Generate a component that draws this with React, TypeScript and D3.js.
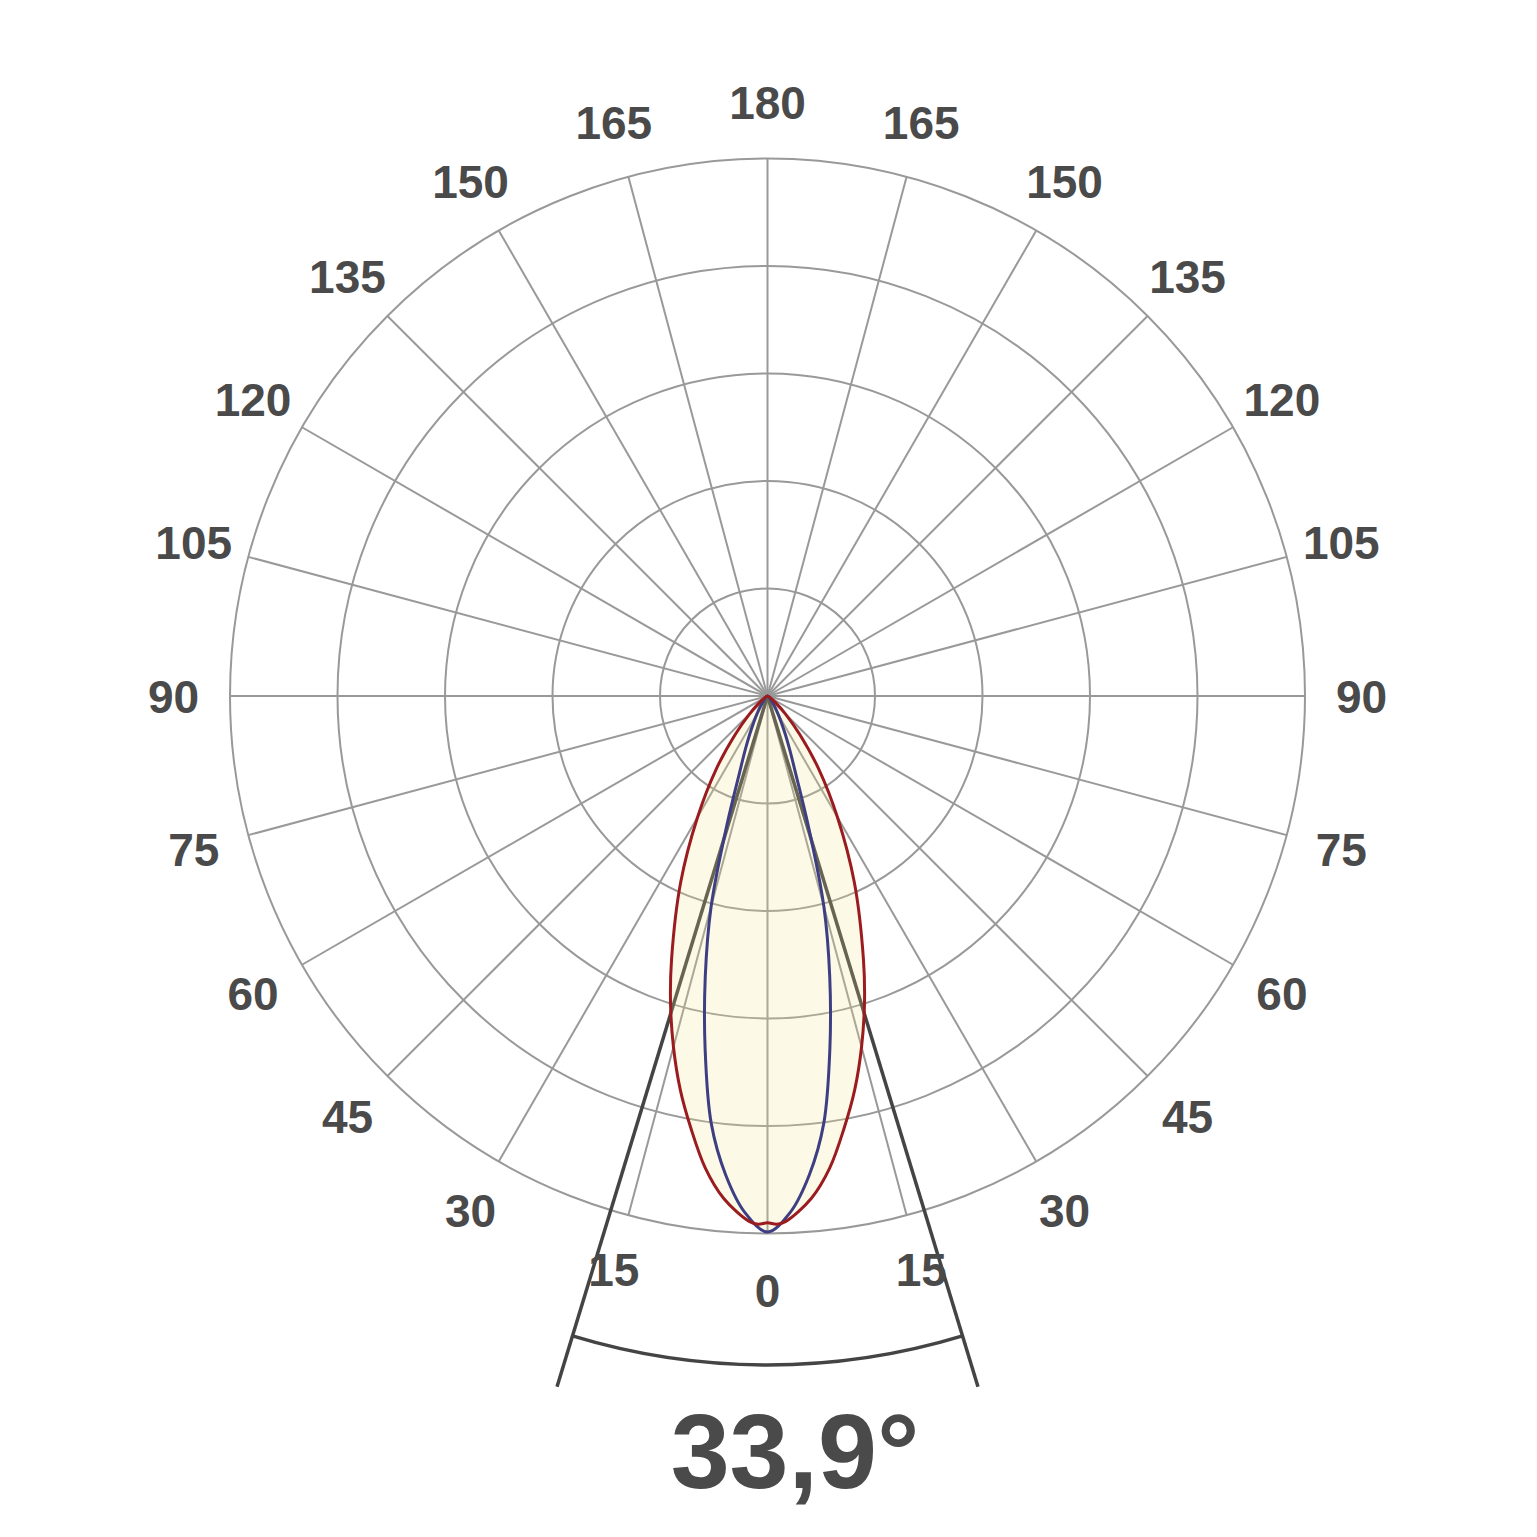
import React from "react";
import * as d3 from "d3";

// Angle labels (degrees from nadir), both sides
const gridAngles = d3.range(0, 360, 15);
const labelAngles = [0, 15, 30, 45, 60, 75, 90, 105, 120, 135, 150, 165, 180];
const ringValues = [20, 40, 60, 80, 100];

// Luminous intensity, % of outer ring — C0/C180 plane (red)
const redAngles = [0, 1, 2, 5, 7.5, 10, 12.5, 15, 17.5, 20, 25, 30, 35, 40, 45, 50, 60, 70, 80, 90];
const redValues = [98.0, 98.3, 97.8, 93.8, 88.6, 81.8, 75, 67.6, 60, 52.2, 38.2, 26, 16.7, 9.3, 4.7, 2.2, 0.6, 0.2, 0.1, 0];

// C90/C270 plane (blue)
const blueAngles = [0, 2.5, 5, 7.5, 10, 12.5, 15, 17.5, 20, 22.5, 25, 27.5, 30, 35, 40, 50, 60, 90];
const blueValues = [99.7, 96.2, 89.4, 80.2, 66.8, 53.5, 40.5, 25, 15.3, 10.8, 7.8, 5.6, 4.1, 2.2, 1.1, 0.4, 0.1, 0];

const beamAngle = 33.9;
const beamLabel = "33,9";

const W = 1537;
const cx = 767.5;
const cy = 696;
const R = 537.5;

const rScale = d3.scaleLinear().domain([0, 100]).range([0, R]);

function pt(angDeg: number, r: number): [number, number] {
  const a = (angDeg * Math.PI) / 180;
  return [cx + r * Math.sin(a), cy + r * Math.cos(a)];
}

function curvePath(angles: number[], values: number[]) {
  const right = angles.map((a, i) => ({ a, v: values[i] }));
  const left = right.slice().reverse().map((d) => ({ a: -d.a, v: d.v }));
  const pts = [...left, ...right.slice(1)];
  const line = d3
    .lineRadial<{ a: number; v: number }>()
    .angle((d) => Math.PI - (d.a * Math.PI) / 180)
    .radius((d) => rScale(d.v))
    .curve(d3.curveCatmullRomClosed.alpha(0.5));
  return line(pts) || "";
}

export default function App() {
  const grid = "#999999";
  const txt = "#4a4a4a";
  const half = beamAngle / 2;
  const beamR = 722;
  const arcR = 669;
  const fs = 46;
  const arc = d3
    .arc()
    .innerRadius(arcR)
    .outerRadius(arcR)
    .startAngle(Math.PI - (half * Math.PI) / 180)
    .endAngle(Math.PI + (half * Math.PI) / 180);
  const redD = curvePath(redAngles, redValues);
  const blueD = curvePath(blueAngles, blueValues);
  return (
    <svg
      width={W}
      height={W}
      style={{ position: "absolute", left: 0, top: 0, background: "#fff" }}
      fontFamily="'Liberation Sans', Arial, Helvetica, sans-serif"
      fontWeight="bold"
    >
      <rect width={W} height={W} fill="#fff" />
      {ringValues.map((v) => (
        <circle key={v} cx={cx} cy={cy} r={rScale(v)} fill="none" stroke={grid} strokeWidth={2} />
      ))}
      {gridAngles.map((a) => {
        const [x, y] = pt(a, R);
        return <line key={a} x1={cx} y1={cy} x2={x} y2={y} stroke={grid} strokeWidth={2} />;
      })}
      {[-1, 1].map((s) => {
        const [x, y] = pt(s * half, beamR);
        return <line key={s} x1={cx} y1={cy} x2={x} y2={y} stroke="#444" strokeWidth={3.5} />;
      })}
      <path d={arc(null as any) || ""} transform={`translate(${cx},${cy})`} fill="none" stroke="#444" strokeWidth={3.5} />
      <g opacity={0.2}>
        <path d={redD} transform={`translate(${cx},${cy})`} fill="#f2e48a" />
        <path d={blueD} transform={`translate(${cx},${cy})`} fill="#f2e48a" />
      </g>
      <path d={blueD} transform={`translate(${cx},${cy})`} fill="none" stroke="#3d3f82" strokeWidth={3} />
      <path d={redD} transform={`translate(${cx},${cy})`} fill="none" stroke="#9a1c1f" strokeWidth={3} />
      {labelAngles.flatMap((a) => {
        const sides = a === 0 || a === 180 ? [1] : [-1, 1];
        return sides.map((s) => {
          const [x, y] = pt(s * a, 594);
          return (
            <text key={`${a}_${s}`} x={x} y={y + fs * 0.36} textAnchor="middle" fontSize={fs} fill={txt}>
              {a}
            </text>
          );
        });
      })}
      <text x={795} y={1488} textAnchor="middle" fontSize={106} fill={txt}>
        {beamLabel}°
      </text>
    </svg>
  );
}
